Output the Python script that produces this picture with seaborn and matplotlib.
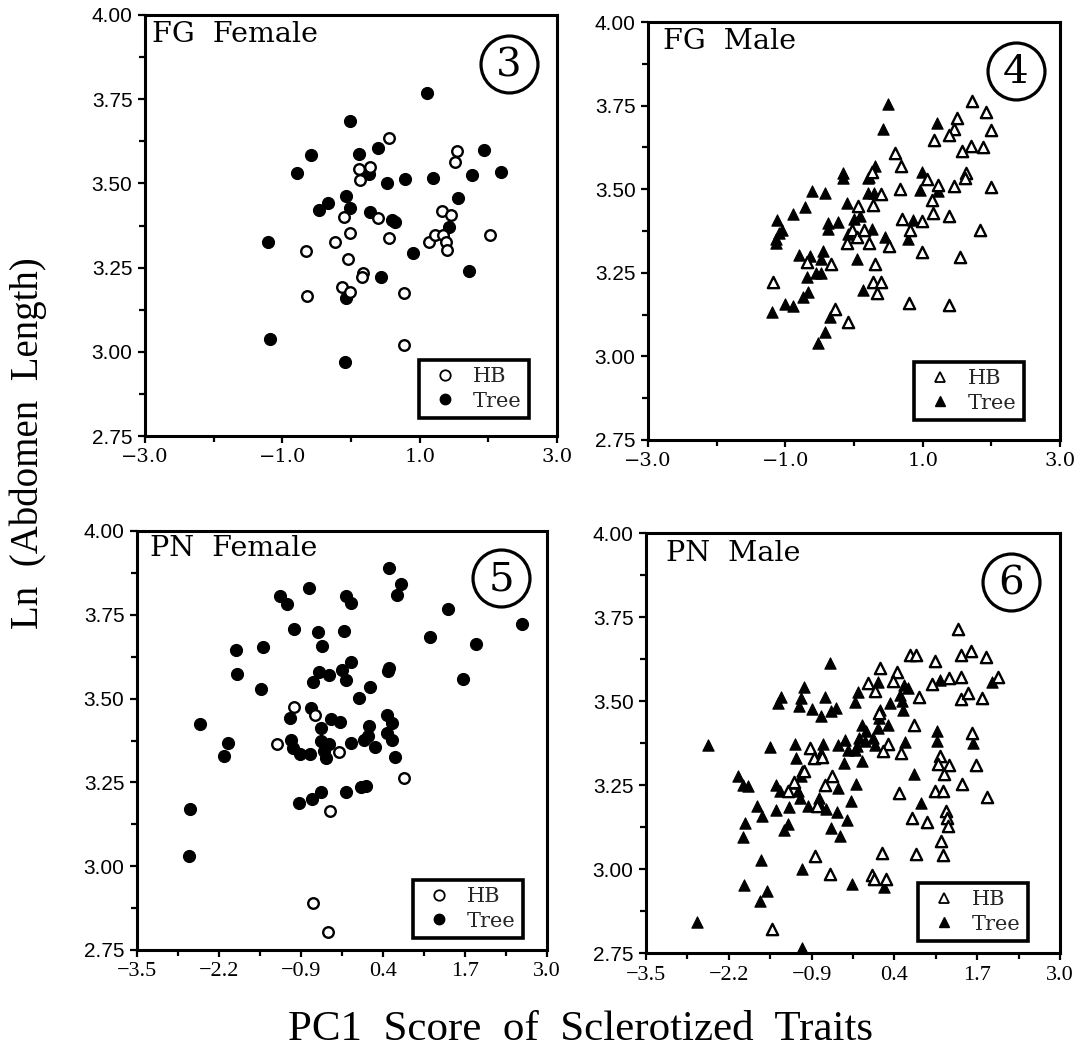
import numpy as np
import pandas as pd
import matplotlib
matplotlib.use("Agg")
import matplotlib.pyplot as plt
import seaborn as sns
from matplotlib.lines import Line2D

# ---------------- data ----------------
# Panel 3: FG Female
fgf_tree_x = [1.10, -0.01, 0.39, -0.585, 0.117, 1.94, -0.78, 0.26, 0.527, 0.78, 1.195, 1.766, 2.19, -0.068,
              -0.34, -0.46, -0.01, 0.278, 1.556, 0.60, 0.64, 1.43, -1.215, 0.90, 0.44, 1.72, -0.073, -1.185, -0.088]
fgf_tree_y = [3.768, 3.684, 3.605, 3.583, 3.586, 3.600, 3.530, 3.529, 3.500, 3.514, 3.516, 3.525, 3.534, 3.464,
              3.443, 3.420, 3.426, 3.416, 3.457, 3.392, 3.384, 3.372, 3.327, 3.293, 3.221, 3.240, 3.160, 3.039, 2.970]
fgf_hb_x = [0.551, 1.55, 1.52, 0.11, 0.273, 0.137, -0.107, 0.39, 1.33, 1.45, -0.015, -0.234, 0.55, 1.13,
            1.23, 1.34, 1.39, 1.40, 2.02, -0.65, -0.04, 0.18, 0.16, -0.137, -0.01, -0.644, 0.77, 0.77]
fgf_hb_y = [3.634, 3.595, 3.563, 3.542, 3.550, 3.511, 3.399, 3.397, 3.417, 3.407, 3.353, 3.326, 3.338, 3.325,
            3.348, 3.348, 3.326, 3.303, 3.348, 3.300, 3.276, 3.234, 3.221, 3.193, 3.177, 3.165, 3.175, 3.020]

# Panel 4: FG Male
fgm_tree_x = [0.49, 0.417, 1.206, -0.167, -0.167, 0.304, 0.206, 0.216, -0.608, -0.42, 0.21, 0.29, 0.985, 0.96,
              1.23, -0.108, -0.716, -0.892, -1.12, -1.05, -1.09, -1.14, -1.13, -0.38, -0.235, -0.38, 0.005, 0.083,
              0.265, -0.093, 0.456, 0.853, 0.79, -0.80, -0.637, -0.45, -0.485, 0.04, -0.69, -0.56, -0.48, -0.667,
              -0.74, 0.127, -1.01, -0.89, -1.19, -0.348, -0.42, -0.52]
fgm_tree_y = [3.754, 3.681, 3.698, 3.549, 3.532, 3.570, 3.532, 3.535, 3.495, 3.489, 3.489, 3.489, 3.552, 3.497,
              3.495, 3.460, 3.447, 3.427, 3.407, 3.377, 3.368, 3.352, 3.338, 3.400, 3.402, 3.380, 3.412, 3.419,
              3.382, 3.365, 3.356, 3.407, 3.350, 3.303, 3.300, 3.316, 3.290, 3.290, 3.238, 3.250, 3.250, 3.193,
              3.178, 3.198, 3.156, 3.150, 3.133, 3.117, 3.072, 3.039]
fgm_hb_x = [1.72, 1.917, 2.0, 1.505, 1.45, 1.39, 1.16, 1.70, 1.57, 1.88, 0.593, 0.68, 0.26, 0.67, 0.387, 1.064,
            1.23, 1.45, 1.63, 1.62, 2.0, 1.13, 1.145, 1.38, 1.83, 0.275, 0.054, 0.70, 0.985, 0.82, -0.03, 0.044,
            0.152, -0.103, 0.225, 0.51, 0.985, -0.69, -0.34, 0.31, -1.186, 0.275, 0.387, 0.34, 1.55, 0.794, 1.377,
            -0.28, -0.088]
fgm_hb_y = [3.763, 3.731, 3.678, 3.714, 3.681, 3.661, 3.646, 3.629, 3.615, 3.626, 3.607, 3.570, 3.550, 3.502,
            3.487, 3.530, 3.512, 3.511, 3.547, 3.532, 3.507, 3.467, 3.430, 3.420, 3.377, 3.454, 3.450, 3.410,
            3.404, 3.379, 3.377, 3.358, 3.377, 3.338, 3.338, 3.330, 3.311, 3.281, 3.276, 3.276, 3.223, 3.221,
            3.221, 3.190, 3.298, 3.161, 3.155, 3.143, 3.102]

# Panel 5: PN Female
pnf_tree_x = [0.49, 0.68, 0.617, -0.773, -1.227, -1.12, -0.186, -0.10, 1.437, 2.61, -1.016, -0.625, -0.218,
              -0.572, -1.502, -1.925, 1.146, 1.88, -0.10, 0.49, 0.486, -1.909, -0.61, -0.45, -0.255, -0.19,
              -0.704, 1.67, 0.20, -1.539, 0.015, -0.741, 0.459, 0.543, -1.08, -0.419, -0.276, -0.577, -2.496,
              0.18, 0.10, 0.163, 0.47, 0.55, -1.063, -0.588, -0.461, -0.10, 0.274, -2.05, -1.026, -0.91, -0.762,
              -0.535, -0.498, -2.12, 0.591, -0.577, -0.72, -0.926, -0.19, 0.047, 0.136, -2.654, -2.68]
pnf_tree_y = [3.889, 3.842, 3.809, 3.831, 3.807, 3.782, 3.807, 3.784, 3.766, 3.722, 3.708, 3.698, 3.703,
              3.658, 3.655, 3.645, 3.684, 3.662, 3.608, 3.592, 3.583, 3.573, 3.579, 3.571, 3.585, 3.556,
              3.549, 3.559, 3.534, 3.528, 3.501, 3.473, 3.451, 3.426, 3.441, 3.439, 3.429, 3.413, 3.423,
              3.417, 3.377, 3.387, 3.397, 3.377, 3.377, 3.374, 3.364, 3.369, 3.357, 3.368, 3.352, 3.334, 3.334,
              3.344, 3.322, 3.330, 3.327, 3.221, 3.200, 3.190, 3.220, 3.236, 3.240, 3.170, 3.029]
pnf_hb_x = [-1.01, -0.683, -1.275, -0.297, 0.728, -0.44, -0.704, -0.47]
pnf_hb_y = [3.476, 3.451, 3.364, 3.342, 3.262, 3.165, 2.889, 2.805]

# Panel 6: PN Male
pnm_tree_x = [-0.616, -1.024, -1.066, -1.10, -1.373, -1.426, -0.897, -0.696, -0.75, -0.595,
              -0.521, -0.172, -0.225, 0.135, 0.177, 0.336, 0.558, 0.611, 0.495, 0.521,
              0.542, 1.114, 1.934, 0.151, 0.135, -0.114, -0.05, 0.304, 0.071, 0.098,
              -0.156, -0.061, -0.183, -0.22, -0.484, -0.368, -0.325, -0.384, -0.103, 0.574,
              1.061, 1.072, 1.627, 0.706, 0.823, -0.722, -0.759, -1.16, -1.146, -1.558,
              -2.52, -1.045, -1.071, -1.172, -1.109, -1.082, -1.463, -1.40, -2.05, -1.971,
              -1.902, -0.96, -0.79, -0.775, -0.669, -0.49, -0.209, -0.278, -0.50, -0.352,
              -0.595, -0.458, -1.251, -1.452, -1.278, -1.34, -1.759, -1.68, -1.944, -1.97,
              -1.69, -1.045, -1.966, -1.606, -1.706, -0.262, 0.241, -2.696, -1.045]
pnm_tree_y = [3.613, 3.541, 3.509, 3.484, 3.511, 3.494, 3.477, 3.511, 3.456, 3.469,
              3.479, 3.527, 3.497, 3.556, 3.474, 3.494, 3.549, 3.539, 3.519, 3.499,
              3.472, 3.563, 3.556, 3.449, 3.420, 3.428, 3.410, 3.428, 3.390, 3.370,
              3.390, 3.382, 3.365, 3.355, 3.370, 3.385, 3.355, 3.315, 3.322, 3.377,
              3.410, 3.380, 3.375, 3.283, 3.196, 3.372, 3.345, 3.372, 3.330, 3.363,
              3.368, 3.291, 3.276, 3.256, 3.231, 3.211, 3.251, 3.231, 3.278, 3.251,
              3.246, 3.188, 3.211, 3.190, 3.180, 3.241, 3.253, 3.201, 3.169, 3.147,
              3.122, 3.099, 3.184, 3.177, 3.135, 3.117, 3.188, 3.157, 3.137, 3.094,
              3.026, 3.001, 2.951, 2.934, 2.904, 2.955, 2.945, 2.842, 2.765]
pnm_hb_x = [1.405, 1.447, 1.606, 1.833, 0.638, 0.743, 1.034, 0.172, 0.442, 0.373,
            -0.019, 0.098, 0.992, 1.262, 1.447, 2.029, 0.78, 1.442, 1.548, 1.775,
            0.161, 0.706, 1.616, 0.294, 0.214, 0.505, -0.923, -0.87, -0.738, 1.119,
            1.077, 1.251, 1.177, 1.685, -0.574, -0.696, -1.013, -1.172, -1.267, 1.458,
            0.468, 1.034, 1.167, 1.854, -0.817, 0.68, 0.913, 1.204, 1.225, 1.246,
            1.13, 1.161, 0.743, 0.198, -0.844, -0.616, 0.056, 0.082, 0.267, -1.521]
pnm_hb_y = [3.714, 3.638, 3.650, 3.630, 3.638, 3.638, 3.620, 3.598, 3.586, 3.561,
            3.554, 3.531, 3.551, 3.568, 3.571, 3.571, 3.511, 3.506, 3.524, 3.509,
            3.464, 3.428, 3.405, 3.373, 3.350, 3.345, 3.360, 3.330, 3.332, 3.335,
            3.313, 3.309, 3.283, 3.309, 3.278, 3.251, 3.291, 3.258, 3.233, 3.253,
            3.226, 3.233, 3.233, 3.213, 3.187, 3.152, 3.140, 3.172, 3.152, 3.127,
            3.084, 3.043, 3.045, 3.048, 3.038, 2.985, 2.981, 2.970, 2.971, 2.821]

panel_titles = ["FG  Female", "FG  Male", "PN  Female", "PN  Male"]
panel_numbers = ["3", "4", "5", "6"]
group_labels = ["HB", "Tree"]

y_ticks = [2.75, 3.00, 3.25, 3.50, 3.75, 4.00]
y_ticklabels = ["2.75", "3.00", "3.25", "3.50", "3.75", "4.00"]
top_x_ticks = [-3.0, -1.0, 1.0, 3.0]
top_x_ticklabels = ["\u22123.0", "\u22121.0", "1.0", "3.0"]
bot_x_ticks = [-3.5, -2.2, -0.9, 0.4, 1.7, 3.0]
bot_x_ticklabels = ["\u22123.5", "\u22122.2", "\u22120.9", "0.4", "1.7", "3.0"]

x_label = "PC1  Score  of  Sclerotized  Traits"
y_label = "Ln  (Abdomen  Length)"

# ---------------- style ----------------
sns.set_theme(style="white")
plt.rcParams["font.family"] = ["DejaVu Serif", "DejaVu Sans"]

W, H = 1082, 1052
fig = plt.figure(figsize=(W / 100, H / 100), dpi=100)
fig.patch.set_facecolor("white")

def rect(l, r, t, b):
    return [l / W, 1 - b / H, (r - l) / W, (b - t) / H]

panels = [
    dict(rect=rect(145, 557, 15, 436), marker="o", tree=(fgf_tree_x, fgf_tree_y), hb=(fgf_hb_x, fgf_hb_y),
         top=True, title_pos=(0.017, 0.985), circ=(0.883, 0.884), leg=(0.932, 0.043)),
    dict(rect=rect(648, 1060, 22, 440), marker="^", tree=(fgm_tree_x, fgm_tree_y), hb=(fgm_hb_x, fgm_hb_y),
         top=True, title_pos=(0.036, 0.985), circ=(0.893, 0.883), leg=(0.913, 0.048)),
    dict(rect=rect(137, 547, 531, 950), marker="o", tree=(pnf_tree_x, pnf_tree_y), hb=(pnf_hb_x, pnf_hb_y),
         top=False, title_pos=(0.032, 0.99), circ=(0.888, 0.888), leg=(0.941, 0.029)),
    dict(rect=rect(646, 1060, 533, 953), marker="^", tree=(pnm_tree_x, pnm_tree_y), hb=(pnm_hb_x, pnm_hb_y),
         top=False, title_pos=(0.048, 0.983), circ=(0.882, 0.883), leg=(0.923, 0.029)),
]

for i, p in enumerate(panels):
    ax = fig.add_axes(p["rect"])
    ax.set_facecolor("white")
    df_hb = pd.DataFrame({"pc1": p["hb"][0], "ln": p["hb"][1]})
    df_tr = pd.DataFrame({"pc1": p["tree"][0], "ln": p["tree"][1]})
    m = p["marker"]
    s_open = 58 if m == "o" else 66
    s_fill = 75 if m == "o" else 66
    sns.scatterplot(data=df_tr, x="pc1", y="ln", marker=m, color="black", edgecolor="black",
                    linewidth=0.8, s=s_fill, ax=ax, zorder=3, legend=False, clip_on=False)
    sns.scatterplot(data=df_hb, x="pc1", y="ln", marker=m, color="white", edgecolor="black",
                    linewidth=1.7, s=s_open, ax=ax, zorder=4, legend=False, clip_on=False)

    ax.set_ylim(2.75, 4.00)
    ax.set_yticks(y_ticks)
    ax.set_yticks(np.arange(2.875, 4.0, 0.25), minor=True)
    ax.set_yticklabels(y_ticklabels, fontfamily="Liberation Sans", fontsize=15, fontweight="medium")
    if p["top"]:
        ax.set_xlim(-3.0, 3.0)
        ax.set_xticks(top_x_ticks)
        ax.set_xticks([-2.0, 0.0, 2.0], minor=True)
        ax.set_xticklabels(top_x_ticklabels, fontfamily="DejaVu Serif", fontsize=14)
    else:
        ax.set_xlim(-3.5, 3.0)
        ax.set_xticks(bot_x_ticks)
        ax.set_xticks([-2.85, -1.55, -0.25, 1.05, 2.35], minor=True)
        ax.set_xticklabels(bot_x_ticklabels, fontfamily="Liberation Serif", fontsize=16)
    ax.set_xlabel("")
    ax.set_ylabel("")
    for sp in ax.spines.values():
        sp.set_visible(True)
        sp.set_color("black")
        sp.set_linewidth(2.2)
    ax.tick_params(which="both", direction="out", color="black", width=1.6,
                   bottom=True, left=True, top=False, right=False, labelcolor="black")
    ax.tick_params(which="major", length=5, pad=4)
    ax.tick_params(which="minor", length=4)

    ax.text(p["title_pos"][0], p["title_pos"][1], panel_titles[i], transform=ax.transAxes,
            ha="left", va="top", fontsize=20.5, fontfamily="DejaVu Serif", color="black", zorder=6)

    cx, cy = p["circ"]
    ax.plot([cx], [cy], marker="o", ms=41, mfc="white", mec="black", mew=2.3,
            transform=ax.transAxes, clip_on=False, zorder=6, ls="none")
    ax.text(cx, cy - 0.004, panel_numbers[i], transform=ax.transAxes, ha="center", va="center",
            fontsize=29, fontfamily="DejaVu Serif", color="black", zorder=7)

    handles = [
        Line2D([], [], marker=m, ls="none", mfc="white", mec="black", mew=1.3, ms=7.5, label=group_labels[0]),
        Line2D([], [], marker=m, ls="none", mfc="black", mec="black", mew=1.0, ms=7.5, label=group_labels[1]),
    ]
    leg = ax.legend(handles=handles, loc="lower right", bbox_to_anchor=p["leg"], borderaxespad=0,
                    frameon=True, fancybox=False, framealpha=1, edgecolor="black",
                    borderpad=0.35, handlelength=1.8, handletextpad=0.45, labelspacing=0.25,
                    prop={"family": "DejaVu Serif", "size": 15})
    leg.get_frame().set_linewidth(2.6)
    leg.set_zorder(8)

fig.text(28 / W, 1 - 443 / H, y_label, rotation=90, ha="center", va="center",
         fontsize=28, fontfamily="Liberation Serif", color="black")
fig.text(581 / W, 1 - 1040 / H, x_label, ha="center", va="baseline",
         fontsize=31, fontfamily="Liberation Serif", color="black")

fig.savefig("out.png", dpi=100, facecolor="white")
